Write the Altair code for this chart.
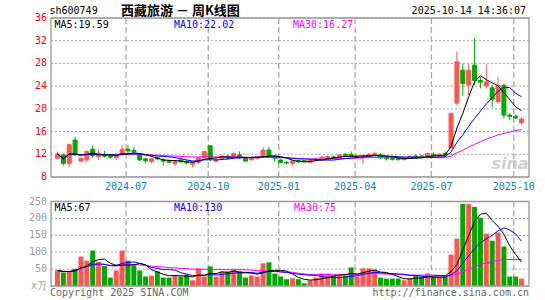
import altair as alt
import pandas as pd

# ---------------- data (weekly K-line) ----------------
weeks = list(range(1, 81))
opens = [11.3, 11.9, 10.4, 14.5, 10.8, 11.0, 12.9, 11.6, 11.9, 11.75,
         11.4, 11.9, 12.9, 12.7, 11.9, 11.2, 10.7, 11.4, 11.0, 10.8,
         10.35, 11.0, 10.7, 10.25, 10.6, 11.4, 13.5, 10.8, 11.2, 11.6,
         11.4, 11.9, 11.3, 11.05, 11.3, 11.7, 12.75, 11.5, 11.0, 10.6,
         10.4, 10.9, 10.9, 10.6, 10.9, 11.0, 11.2, 11.55, 11.4, 12.0,
         12.0, 11.55, 11.5, 11.6, 11.9, 11.9, 11.4, 11.3, 11.25, 11.05,
         11.3, 11.7, 11.7, 11.6, 12.0, 11.7, 12.15, 13.1, 21.0, 26.8,
         24.2, 27.7, 25.0, 24.05, 23.7, 21.25, 24.15, 18.9, 18.7, 17.55]
highs = [12.5, 12.1, 13.9, 15.1, 11.5, 12.6, 13.6, 12.9, 12.6, 12.0,
         12.2, 13.6, 13.6, 13.2, 12.2, 11.4, 11.4, 11.6, 11.3, 11.0,
         10.9, 11.2, 11.0, 10.7, 11.5, 12.6, 13.5, 11.5, 12.0, 12.0,
         12.35, 12.5, 11.4, 11.5, 11.7, 13.3, 13.3, 11.6, 11.1, 10.8,
         10.9, 11.0, 11.0, 11.2, 11.5, 11.8, 11.8, 11.8, 12.0, 12.2,
         12.5, 11.8, 11.9, 12.2, 12.45, 12.2, 11.7, 11.6, 11.4, 11.4,
         11.9, 12.0, 11.9, 12.3, 12.3, 12.1, 12.5, 19.2, 30.1, 28.0,
         28.0, 32.5, 25.6, 27.8, 24.2, 25.6, 24.45, 19.2, 19.0, 18.55]
lows = [11.2, 10.0, 9.7, 11.8, 10.6, 10.6, 11.3, 11.0, 11.4, 11.2,
        11.0, 11.7, 12.2, 11.9, 10.8, 10.4, 10.4, 10.9, 10.0, 10.4,
        9.9, 10.5, 10.2, 9.65, 10.3, 11.3, 10.8, 10.6, 11.0, 11.1,
        11.2, 11.2, 10.7, 10.8, 11.1, 11.5, 11.6, 10.7, 10.4, 10.2,
        10.0, 10.5, 10.6, 10.4, 10.8, 10.9, 11.1, 11.2, 11.3, 11.5,
        11.5, 11.2, 10.25, 11.5, 11.8, 11.1, 10.9, 10.9, 10.9, 10.9,
        11.2, 11.3, 11.3, 11.5, 11.4, 11.5, 11.6, 13.1, 20.6, 22.3,
        22.4, 24.2, 23.6, 23.6, 20.4, 20.95, 18.3, 18.0, 18.2, 17.25]
closes = [12.05, 10.4, 13.7, 11.9, 11.3, 12.5, 11.8, 12.2, 11.65, 11.5,
          11.75, 12.9, 12.6, 12.45, 11.0, 10.85, 11.2, 11.2, 10.8, 10.6,
          10.7, 10.7, 10.5, 10.6, 11.4, 12.5, 11.3, 11.0, 11.6, 11.3,
          12.1, 11.4, 10.8, 11.4, 11.55, 12.75, 11.7, 11.3, 10.55, 10.45,
          10.8, 10.7, 10.75, 11.0, 11.1, 11.5, 11.6, 11.35, 11.9, 11.75,
          11.6, 11.7, 11.7, 12.0, 12.15, 11.4, 11.2, 11.1, 11.05, 11.3,
          11.6, 11.5, 11.45, 12.15, 11.75, 12.0, 11.9, 19.2, 28.3, 24.45,
          26.8, 25.0, 24.7, 24.75, 21.7, 24.15, 18.9, 18.65, 18.4, 18.2]
volumes = [46, 40, 43, 51, 87, 75, 105, 72, 59, 25,
           46, 105, 75, 61, 46, 28, 31, 43, 25, 25,
           31, 28, 34, 17, 52, 28, 58, 28, 43, 43,
           48, 43, 25, 31, 28, 67, 70, 37, 28, 20,
           23, 20, 8, 17, 25, 37, 37, 31, 31, 31,
           55, 28, 52, 52, 49, 25, 22, 22, 22, 17,
           22, 31, 28, 37, 28, 28, 28, 93, 140, 243,
           243, 234, 202, 155, 134, 158, 117, 28, 28, 22]

tick_weeks = [13, 27, 39, 52, 65, 79]
tick_labels = ["2024-07", "2024-10", "2025-01", "2025-04", "2025-07", "2025-10"]
price_ticks = [8, 12, 16, 20, 24, 28, 32, 36]
price_tick_labels = ["8", "12", "16", "20", "24", "28", "32", "36"]
volume_ticks = [0, 50, 100, 150, 200, 250]
volume_tick_labels = ["x万", "50", "100", "150", "200", "250"]

title_code = "sh600749"
title_name = "西藏旅游 － 周K线图"
timestamp = "2025-10-14 14:36:07"
price_ma_labels = ["MA5:19.59", "MA10:22.02", "MA30:16.27"]
volume_ma_labels = ["MA5:67", "MA10:130", "MA30:75"]
footer_left = "Copyright 2025 SINA.COM"
footer_right = "http://finance.sina.com.cn"

# ---------------- styling ----------------
MONO = "DejaVu Sans Mono"
RED = "#ff5555"
GREEN = "#00a800"
MA_COLORS = ["#000000", "#0000ff", "#ff00ff"]
GRID = "#aaaaaa"
W, H = 478, 268
PRICE_H = 159
VOL_TOP, VOL_BOT = 183.5, 268

df = pd.DataFrame({"week": weeks, "open": opens, "high": highs, "low": lows,
                   "close": closes, "volume": volumes})
df["dir"] = ["up" if c >= o else "down" for o, c in zip(opens, closes)]
ticks_df = pd.DataFrame({"week": tick_weeks, "label": tick_labels})
ptick_df = pd.DataFrame({"v": price_ticks, "label": price_tick_labels})
vtick_df = pd.DataFrame({"v": volume_ticks, "label": volume_tick_labels})

xs = alt.Scale(domain=[0.75, 80.4167], nice=False, zero=False)
ps = alt.Scale(domain=[8, 36], range=[PRICE_H, 0], nice=False, zero=False)
vs = alt.Scale(domain=[0, 250], range=[VOL_BOT, VOL_TOP], nice=False)
dir_scale = alt.Scale(domain=["up", "down"], range=[RED, GREEN])
X = alt.X("week:Q", scale=xs, axis=None)
COLOR = alt.Color("dir:N", scale=dir_scale, legend=None)

base = alt.Chart(df)


def grid_and_labels(tdf, scale, label_color):
    grid = alt.Chart(tdf).mark_rule(color=GRID, strokeDash=[2, 2], strokeWidth=1).encode(
        x=alt.value(0), x2=alt.value(W), y=alt.Y("v:Q", scale=scale, axis=None))
    labels = alt.Chart(tdf).mark_text(
        align="right", baseline="middle", font=MONO, fontSize=10, color=label_color).encode(
        x=alt.value(-4), y=alt.Y("v:Q", scale=scale, axis=None), text="label:N")
    return grid, labels


def ma_line(field, n, color, scale):
    return base.transform_window(
        ma=f"mean({field})", frame=[-(n - 1), 0], sort=[alt.SortField("week")]
    ).mark_line(color=color, strokeWidth=1).encode(
        x=X, y=alt.Y("ma:Q", scale=scale, axis=None))


pgrid, plabels = grid_and_labels(ptick_df, ps, "#ff0000")
wick = base.mark_rule(strokeWidth=1).encode(
    x=X, y=alt.Y("low:Q", scale=ps, axis=None), y2="high:Q", color=COLOR)
body = base.mark_bar(size=4, strokeWidth=1).encode(
    x=X, y=alt.Y("open:Q", scale=ps, axis=None), y2="close:Q",
    color=COLOR, stroke=alt.Stroke("dir:N", scale=dir_scale, legend=None))

price = alt.layer(pgrid, plabels, wick, body,
                  ma_line("close", 30, MA_COLORS[2], ps),
                  ma_line("close", 10, MA_COLORS[1], ps),
                  ma_line("close", 5, MA_COLORS[0], ps))

vgrid, vlabels = grid_and_labels(vtick_df, vs, "#9a9a9a")
vbars = base.mark_bar(size=5).encode(
    x=X, y=alt.Y("volume:Q", scale=vs, axis=None), color=COLOR)
vol = alt.layer(vgrid, vlabels, vbars,
                ma_line("volume", 30, MA_COLORS[2], vs),
                ma_line("volume", 10, MA_COLORS[1], vs),
                ma_line("volume", 5, MA_COLORS[0], vs))

one = pd.DataFrame({"a": [0]})


def frame(y0, y1):
    return alt.Chart(one).mark_rect(fillOpacity=0, stroke="#999999", strokeWidth=1.3).encode(
        x=alt.value(0), x2=alt.value(W), y=alt.value(y0), y2=alt.value(y1))


def vlines(y0, y1):
    return alt.Chart(ticks_df).transform_calculate(pos="datum.week - 1/3").mark_rule(
        color=GRID, strokeDash=[6, 3], strokeWidth=1.3).encode(
        x=alt.X("pos:Q", scale=xs, axis=None), y=alt.value(y0), y2=alt.value(y1))


xlabels = alt.Chart(ticks_df).transform_calculate(pos="datum.week - 1/3").mark_text(
    font=MONO, fontSize=10, color="#0a80d0", baseline="middle", align="center").encode(
    x=alt.X("pos:Q", scale=xs, axis=None), y=alt.value(168.5), text="label:N")


def label(text, x, y, color="#000000", align="left", font=MONO, size=10,
          weight="normal", style="normal"):
    return alt.Chart(pd.DataFrame({"label": [text]})).mark_text(
        align=align, baseline="middle", font=font, fontSize=size, color=color,
        fontWeight=weight, fontStyle=style).encode(
        x=alt.value(x), y=alt.value(y), text="label:N")


texts = [
    label(title_code, -1.5, -7),
    label(title_name, 70, -7, font="Noto Sans CJK SC", size=13, weight="bold"),
    label(timestamp, 475, -7, align="right"),
    label(price_ma_labels[0], 3.5, 6.5, MA_COLORS[0]),
    label(price_ma_labels[1], 123, 6.5, MA_COLORS[1]),
    label(price_ma_labels[2], 242, 6.5, MA_COLORS[2]),
    label(volume_ma_labels[0], 3.5, 189.5, MA_COLORS[0]),
    label(volume_ma_labels[1], 123, 189.5, MA_COLORS[1]),
    label(volume_ma_labels[2], 243, 189.5, MA_COLORS[2]),
    label(footer_left, -1, 274.5, "#666666"),
    label(footer_right, 478, 274.5, "#666666", align="right"),
    label("sina", 459, 146, "#cfcfcf", align="center", font="DejaVu Sans", size=16,
          weight="bold", style="italic"),
]

chart = alt.layer(
    vlines(0, PRICE_H), vlines(VOL_TOP, VOL_BOT),
    vol, price,
    frame(0, PRICE_H), frame(VOL_TOP, VOL_BOT),
    xlabels, *texts
).resolve_scale(y="independent", color="shared").properties(
    width=W, height=H,
    autosize=alt.AutoSizeParams(type="none"),
    padding={"left": 51, "top": 18, "right": 16, "bottom": 14},
).configure_view(strokeWidth=0)

chart.save("out.html", embed_options={"renderer": "svg", "actions": False})
